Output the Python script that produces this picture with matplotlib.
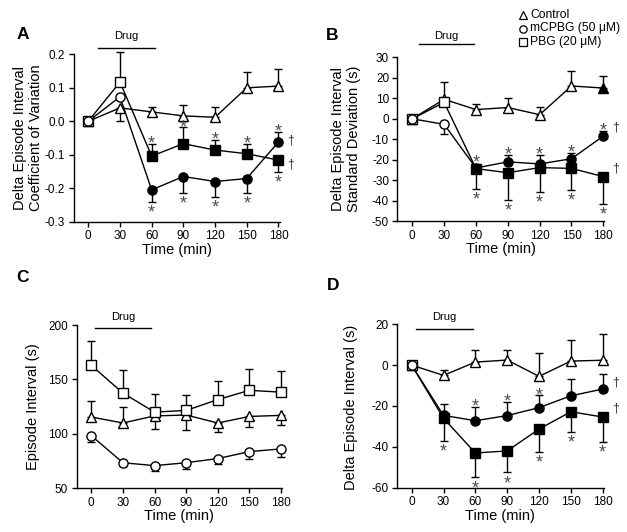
import matplotlib
matplotlib.use("Agg")
import matplotlib.pyplot as plt
from matplotlib.lines import Line2D
from matplotlib.ticker import FormatStrFormatter

plt.rcParams['font.family'] = ['Liberation Sans', 'DejaVu Sans']
plt.rcParams['axes.unicode_minus'] = False

# ---------------- data ----------------
time = [0, 30, 60, 90, 120, 150, 180]
time_ticks = [0, 30, 60, 90, 120, 150, 180]

# Panel A: delta episode interval coefficient of variation
A_ctrl = [0, 0.040, 0.028, 0.016, 0.012, 0.100, 0.105]
A_ctrl_err = [0, -0.040, 0.016, 0.034, 0.032, 0.046, 0.050]
A_mcpbg = [0, 0.073, -0.205, -0.165, -0.180, -0.171, -0.062]
A_mcpbg_err = [0, 0, -0.035, -0.048, -0.045, -0.044, 0.031]
A_pbg = [0, 0.117, -0.104, -0.067, -0.086, -0.097, -0.116]
A_pbg_err = [0, 0.090, 0.037, 0.050, 0.031, 0.030, -0.035]
A_yticks = [-0.3, -0.2, -0.1, 0.0, 0.1, 0.2]

# Panel B: delta episode interval standard deviation (s)
B_ctrl = [0, 9.5, 4.5, 5.5, 2.0, 16.0, 15.0]
B_ctrl_err = [0, 8.5, 2.7, 4.5, 4.0, 7.5, 6.0]
B_mcpbg = [0, -2.7, -24.0, -21.0, -22.0, -19.5, -8.4]
B_mcpbg_err = [0, -4.5, 0, 3.5, 4.5, 3.0, 2.5]
B_pbg = [0, 8.0, -24.3, -26.3, -23.8, -24.2, -28.2]
B_pbg_err = [0, 0, -10.0, -13.3, -12.0, -10.5, -13.5]
B_yticks = [-50, -40, -30, -20, -10, 0, 10, 20, 30]

# Panel C: episode interval (s)
C_ctrl = [115.5, 110.0, 116.5, 117.3, 110.0, 116.0, 117.0]
C_ctrl_err = [14.5, 14.5, -11.7, -13.7, -8.3, -9.3, -8.8]
C_mcpbg = [98.4, 73.5, 70.8, 73.5, 77.3, 83.7, 86.2]
C_mcpbg_err = [-6.0, -3.4, -5.2, -5.5, -5.3, -7.1, -7.2]
C_pbg = [163.0, 137.5, 120.0, 121.5, 131.5, 140.0, 138.3]
C_pbg_err = [22.0, 21.5, 16.5, 14.0, 17.0, 20.0, 19.5]
C_yticks = [50, 100, 150, 200]

# Panel D: delta episode interval (s)
D_ctrl = [0, -5.0, 1.5, 2.5, -5.5, 2.0, 2.4]
D_ctrl_err = [0, 2.5, 5.8, 4.8, 11.3, 10.2, 12.8]
D_mcpbg = [0, -24.6, -27.2, -24.7, -20.8, -15.0, -11.7]
D_mcpbg_err = [0, 5.4, 6.9, 6.7, 6.2, 8.2, 7.5]
D_pbg = [0, -26.0, -43.0, -42.0, -31.3, -22.8, -25.4]
D_pbg_err = [0, -11.1, -12.0, -10.5, -11.2, -10.1, -12.2]
D_yticks = [-60, -40, -20, 0, 20]

# filled markers (1 = filled)
A_ctrl_fill = [0, 0, 0, 0, 0, 0, 0]
A_drug_fill = [0, 0, 1, 1, 1, 1, 1]
B_ctrl_fill = [0, 0, 0, 0, 0, 0, 1]
B_drug_fill = [0, 0, 1, 1, 1, 1, 1]
C_fill = [0, 0, 0, 0, 0, 0, 0]
D_ctrl_fill = [0, 0, 0, 0, 0, 0, 0]
D_drug_fill = [0, 1, 1, 1, 1, 1, 1]

# significance asterisks (+1 above, -1 below, 0 none)
A_mcpbg_star = [0, 0, -1, -1, -1, -1, 1]
A_pbg_star = [0, 0, 1, 1, 1, 1, -1]
B_mcpbg_star = [0, 0, 1, 1, 1, 1, 1]
B_pbg_star = [0, 0, -1, -1, -1, -1, -1]
D_mcpbg_star = [0, 0, 1, 1, 1, 0, 0]
D_pbg_star = [0, -1, -1, -1, -1, -1, -1]
no_star = [0, 0, 0, 0, 0, 0, 0]

# daggers at 180 min
A_dagger = [1, 1]
B_dagger = [1, 1]
D_dagger = [1, 1]

legend_labels = ["Control", "mCPBG (50 \u03bcM)", "PBG (20 \u03bcM)"]

W, H = 627, 532
fig = plt.figure(figsize=(W / 100, H / 100), dpi=100)


def px_axes(l, r, b, t):
    return fig.add_axes([l / W, 1 - b / H, (r - l) / W, (b - t) / H])


axA = px_axes(73.5, 279.5, 221.7, 54.3)
axB = px_axes(397.4, 604.4, 221.3, 57.3)
axC = px_axes(76.5, 282.1, 488.3, 325.0)
axD = px_axes(396.8, 603.8, 487.7, 324.3)

MK = {'ctrl': ('^', 7.5), 'mcpbg': ('o', 6.6), 'pbg': ('s', 6.8)}
STAR_FS = 13


def draw_series(ax, y, err, fill, kind, stars, z):
    lower = [-e if e < 0 else 0 for e in err]
    upper = [e if e > 0 else 0 for e in err]
    ax.plot(time, y, color='black', lw=1.0, zorder=2, clip_on=False)
    eb = ax.errorbar(time, y, yerr=[lower, upper], fmt='none', ecolor='black',
                     elinewidth=1.0, capsize=3.2, capthick=1.0, zorder=2)
    for c in eb[1]:
        c.set_clip_on(False)
    for c in eb[2]:
        c.set_clip_on(False)
    m, ms = MK[kind]
    for xi, yi, f in zip(time, y, fill):
        ax.plot([xi], [yi], marker=m, ms=ms, mec='black', mew=1.0,
                mfc='black' if f else 'white', ls='none', zorder=z, clip_on=False)
    for xi, yi, e, s in zip(time, y, err, stars):
        if s == 0:
            continue
        if e != 0 and (e > 0) == (s > 0):
            anchor = yi + e
            d = 3.9 if s > 0 else -3.7
        else:
            anchor = yi
            d = 8.0 if s > 0 else -8.0
        ax.annotate('*', (xi, anchor), xytext=(0, d - 0.58 * STAR_FS), textcoords='offset points',
                    ha='center', va='baseline', fontsize=STAR_FS, color='0.3', zorder=6,
                    annotation_clip=False)


def dagger(ax, x, y, dy):
    ax.annotate('\u2020', (x, y), xytext=(6.5, dy), textcoords='offset points',
                ha='left', va='center', fontsize=9, color='0.2', annotation_clip=False)


def style(ax, yticks, fmt=None):
    for s in ('top', 'right'):
        ax.spines[s].set_visible(False)
    for s in ('left', 'bottom'):
        ax.spines[s].set_linewidth(1.0)
    ax.set_xlim(-14, 181)
    ax.set_ylim(yticks[0], yticks[-1])
    ax.set_xticks(time_ticks)
    ax.set_yticks(yticks)
    if fmt:
        ax.yaxis.set_major_formatter(FormatStrFormatter(fmt))
    ax.tick_params(direction='out', length=3.5, width=1.0, labelsize=8.5, pad=2.5)
    ax.set_xlabel('Time (min)', fontsize=10.5, labelpad=0.5)
    ax.set_facecolor('none')


def drug(ax, x0, x1, yline, ytext):
    tr = ax.get_xaxis_transform()
    ax.plot([x0, x1], [yline, yline], color='black', lw=1.0, transform=tr, clip_on=False)
    ax.text((x0 + x1) / 2, ytext, 'Drug', transform=tr, ha='center', va='center', fontsize=8)


# Panel A
draw_series(axA, A_ctrl, A_ctrl_err, A_ctrl_fill, 'ctrl', no_star, 3)
draw_series(axA, A_pbg, A_pbg_err, A_drug_fill, 'pbg', A_pbg_star, 4)
draw_series(axA, A_mcpbg, A_mcpbg_err, A_drug_fill, 'mcpbg', A_mcpbg_star, 5)
style(axA, A_yticks, '%.1f')
drug(axA, 9, 63, 1.039, 1.111)
if A_dagger[0]:
    dagger(axA, time[-1], A_mcpbg[-1], 1)
if A_dagger[1]:
    dagger(axA, time[-1], A_pbg[-1], -3)

# Panel B
draw_series(axB, B_ctrl, B_ctrl_err, B_ctrl_fill, 'ctrl', no_star, 3)
draw_series(axB, B_pbg, B_pbg_err, B_drug_fill, 'pbg', B_pbg_star, 4)
draw_series(axB, B_mcpbg, B_mcpbg_err, B_drug_fill, 'mcpbg', B_mcpbg_star, 5)
style(axB, B_yticks)
drug(axB, 6, 58.5, 1.079, 1.132)
if B_dagger[0]:
    dagger(axB, time[-1], B_mcpbg[-1], 6)
if B_dagger[1]:
    dagger(axB, time[-1], B_pbg[-1], 6)

# Panel C
draw_series(axC, C_ctrl, C_ctrl_err, C_fill, 'ctrl', no_star, 3)
draw_series(axC, C_pbg, C_pbg_err, C_fill, 'pbg', no_star, 4)
draw_series(axC, C_mcpbg, C_mcpbg_err, C_fill, 'mcpbg', no_star, 5)
style(axC, C_yticks)
drug(axC, 3.5, 57, 0.980, 1.051)

# Panel D
draw_series(axD, D_ctrl, D_ctrl_err, D_ctrl_fill, 'ctrl', no_star, 3)
draw_series(axD, D_pbg, D_pbg_err, D_drug_fill, 'pbg', D_pbg_star, 4)
draw_series(axD, D_mcpbg, D_mcpbg_err, D_drug_fill, 'mcpbg', D_mcpbg_star, 5)
style(axD, D_yticks)
drug(axD, 4, 58, 0.971, 1.047)
if D_dagger[0]:
    dagger(axD, time[-1], D_mcpbg[-1], 5)
if D_dagger[1]:
    dagger(axD, time[-1], D_pbg[-1], 6)

# Y labels (figure pixel positions)
def ylab(x, y, s):
    fig.text(x / W, 1 - y / H, s, rotation=90, ha='center', va='center',
             fontsize=10.5, linespacing=1.25)

ylab(28, 138, 'Delta Episode Interval\nCoefficient of Variation')
ylab(346, 139, 'Delta Episode Interval\nStandard Deviation (s)')
ylab(32.5, 407, 'Episode Interval (s)')
ylab(351, 407, 'Delta Episode Interval (s)')

# Panel letters
for (x, y, s) in [(22.7, 34.5, 'A'), (331.7, 36, 'B'), (22.5, 277.5, 'C'), (332.7, 285, 'D')]:
    fig.text(x / W, 1 - y / H, s, ha='center', va='center', fontsize=12.5, fontweight='bold')

# Legend
for i, (kind, lab) in enumerate(zip(['ctrl', 'mcpbg', 'pbg'], legend_labels)):
    y = 15 + i * 13.5
    m = MK[kind][0]
    fig.add_artist(Line2D([522.5 / W], [1 - y / H], marker=m, ms=5.3, mec='black', mew=0.9,
                          mfc='white', ls='none', transform=fig.transFigure))
    fig.text(530.5 / W, 1 - y / H, lab, ha='left', va='center', fontsize=8.7)

fig.savefig('out.png', dpi=100)
